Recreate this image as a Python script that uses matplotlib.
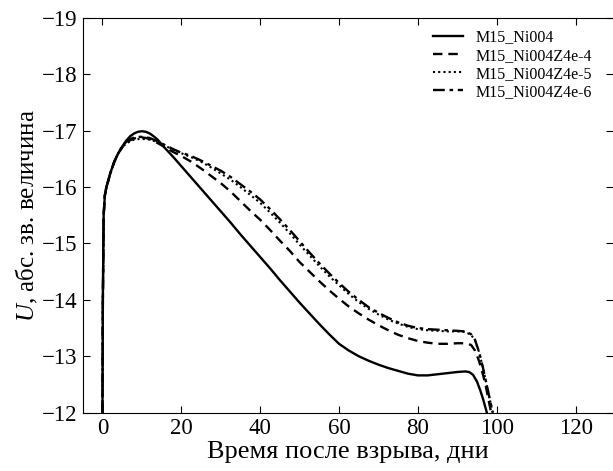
import numpy as np
import matplotlib
matplotlib.use("Agg")
import matplotlib.pyplot as plt

plt.rcParams["font.family"] = ["Liberation Serif", "DejaVu Serif"]
plt.rcParams["mathtext.fontset"] = "custom"
plt.rcParams["mathtext.it"] = "Liberation Serif:italic"
plt.rcParams["mathtext.rm"] = "Liberation Serif"

# M15_Ni004
t_ni004 = [0, 0.1, 0.3, 0.6, 1, 1.5, 2, 3, 4, 5, 6, 7, 8, 9, 10, 11, 12, 13, 14,
           16, 18, 20, 22.5, 25, 27.5, 30, 32.5, 35, 37.5, 40, 42.5, 45, 47.5, 50,
           52.5, 55, 57.5, 60, 62.5, 65, 67.5, 70, 72.5, 75, 77.5, 80, 82.5, 85,
           87.5, 90, 92, 93, 94, 95, 95.8, 96.5, 97.1, 97.5]
m_ni004 = [-12, -14.0, -15.5, -15.85, -16.0, -16.12, -16.25, -16.45, -16.6, -16.72,
           -16.82, -16.9, -16.95, -16.98, -16.99, -16.98, -16.95, -16.9, -16.84,
           -16.68, -16.53, -16.37, -16.17, -15.97, -15.77, -15.57, -15.37, -15.16,
           -14.96, -14.76, -14.56, -14.35, -14.15, -13.95, -13.76, -13.57, -13.39,
           -13.22, -13.1, -13.0, -12.92, -12.85, -12.79, -12.74, -12.69, -12.66,
           -12.66, -12.68, -12.7, -12.72, -12.73, -12.72, -12.67, -12.55, -12.4,
           -12.25, -12.1, -12.0]

# M15_Ni004Z4e-4
t_z4 = [0, 0.1, 0.3, 0.6, 1, 1.5, 2, 3, 4, 5, 6, 7, 8, 9, 10, 11, 12, 13, 14,
        16, 18, 20, 22.5, 25, 27.5, 30, 32.5, 35, 37.5, 40, 42.5, 45, 47.5, 50,
        52.5, 55, 57.5, 60, 62.5, 65, 67.5, 70, 72.5, 75, 77.5, 80, 82.5, 85,
        87.5, 90, 92, 93.5, 94.5, 95.5, 96.5, 97.3, 98, 98.6]
m_z4 = [-12, -14.0, -15.5, -15.85, -16.0, -16.12, -16.25, -16.45, -16.6, -16.7,
        -16.78, -16.83, -16.86, -16.88, -16.88, -16.87, -16.85, -16.82, -16.78,
        -16.7, -16.62, -16.55, -16.45, -16.33, -16.2, -16.07, -15.92, -15.75,
        -15.58, -15.42, -15.24, -15.05, -14.87, -14.67, -14.5, -14.33, -14.17,
        -14.02, -13.88, -13.76, -13.65, -13.55, -13.46, -13.38, -13.32, -13.27,
        -13.24, -13.22, -13.22, -13.23, -13.23, -13.2, -13.1, -12.92, -12.68,
        -12.45, -12.2, -12.0]

# M15_Ni004Z4e-5
t_z5 = [0, 0.1, 0.3, 0.6, 1, 1.5, 2, 3, 4, 5, 6, 7, 8, 9, 10, 11, 12, 13, 14,
        16, 18, 20, 22.5, 25, 27.5, 30, 32.5, 35, 37.5, 40, 42.5, 45, 47.5, 50,
        52.5, 55, 57.5, 60, 62.5, 65, 67.5, 70, 72.5, 75, 77.5, 80, 82.5, 85,
        87.5, 90, 92, 93.5, 94.5, 95.5, 96.5, 97.5, 98.3, 99]
m_z5 = [-12, -14.0, -15.5, -15.85, -16.0, -16.12, -16.25, -16.45, -16.6, -16.7,
        -16.77, -16.81, -16.84, -16.85, -16.85, -16.85, -16.84, -16.82, -16.79,
        -16.73, -16.66, -16.6, -16.53, -16.45, -16.35, -16.24, -16.13, -16.0,
        -15.86, -15.72, -15.55, -15.37, -15.18, -14.98, -14.79, -14.6, -14.42,
        -14.26, -14.1, -13.96, -13.84, -13.74, -13.65, -13.58, -13.52, -13.48,
        -13.46, -13.45, -13.44, -13.44, -13.43, -13.38, -13.28, -13.08, -12.8,
        -12.48, -12.22, -12.0]

# M15_Ni004Z4e-6
t_z6 = [0, 0.1, 0.3, 0.6, 1, 1.5, 2, 3, 4, 5, 6, 7, 8, 9, 10, 11, 12, 13, 14,
        16, 18, 20, 22.5, 25, 27.5, 30, 32.5, 35, 37.5, 40, 42.5, 45, 47.5, 50,
        52.5, 55, 57.5, 60, 62.5, 65, 67.5, 70, 72.5, 75, 77.5, 80, 82.5, 85,
        87.5, 90, 92, 93.5, 94.5, 95.5, 96.5, 97.5, 98.3, 99]
m_z6 = [-12, -14.0, -15.5, -15.85, -16.0, -16.12, -16.25, -16.45, -16.6, -16.72,
        -16.8, -16.85, -16.88, -16.89, -16.89, -16.88, -16.87, -16.84, -16.81,
        -16.74, -16.67, -16.61, -16.55, -16.47, -16.38, -16.29, -16.18, -16.05,
        -15.92, -15.78, -15.61, -15.43, -15.24, -15.04, -14.84, -14.65, -14.47,
        -14.3, -14.14, -14.0, -13.87, -13.77, -13.68, -13.6, -13.54, -13.5,
        -13.48, -13.47, -13.46, -13.45, -13.44, -13.39, -13.29, -13.08, -12.8,
        -12.48, -12.22, -12.0]

x_ticks = [0, 20, 40, 60, 80, 100, 120]
y_ticks = [-19, -18, -17, -16, -15, -14, -13, -12]

fig = plt.figure(figsize=(6.13, 4.71), dpi=100)
ax = fig.add_axes([0.135, 0.124, 0.865, 0.838])

ax.plot(t_ni004, m_ni004, color="black", lw=1.7, ls="-", label="M15_Ni004")
ax.plot(t_z4, m_z4, color="black", lw=1.7, ls=(0, (4, 2.5)), label="M15_Ni004Z4e-4")
ax.plot(t_z5, m_z5, color="black", lw=1.5, ls=(0, (1, 1.5)), label="M15_Ni004Z4e-5")
ax.plot(t_z6, m_z6, color="black", lw=1.7, ls=(0, (5, 2, 1.5, 2)), label="M15_Ni004Z4e-6")

ax.set_xlim(-5, 129.5)
ax.set_ylim(-12, -19)
ax.set_xticks(x_ticks)
ax.set_yticks(y_ticks)
ax.tick_params(direction="in", length=5, width=0.8, top=True, right=True,
               labelsize=16.5, pad=4)
ax.spines["right"].set_visible(False)

ax.set_xlabel("Время после взрыва, дни", fontsize=19, labelpad=1)
ax.set_ylabel("$U$, абс. зв. величина", fontsize=18, labelpad=1)

leg = ax.legend(loc="upper right", bbox_to_anchor=(1.0, 1.023), frameon=False,
                fontsize=11.5, handlelength=1.9, handletextpad=0.8,
                labelspacing=0.13, borderaxespad=0.9)

fig.savefig("out.png", dpi=100)
